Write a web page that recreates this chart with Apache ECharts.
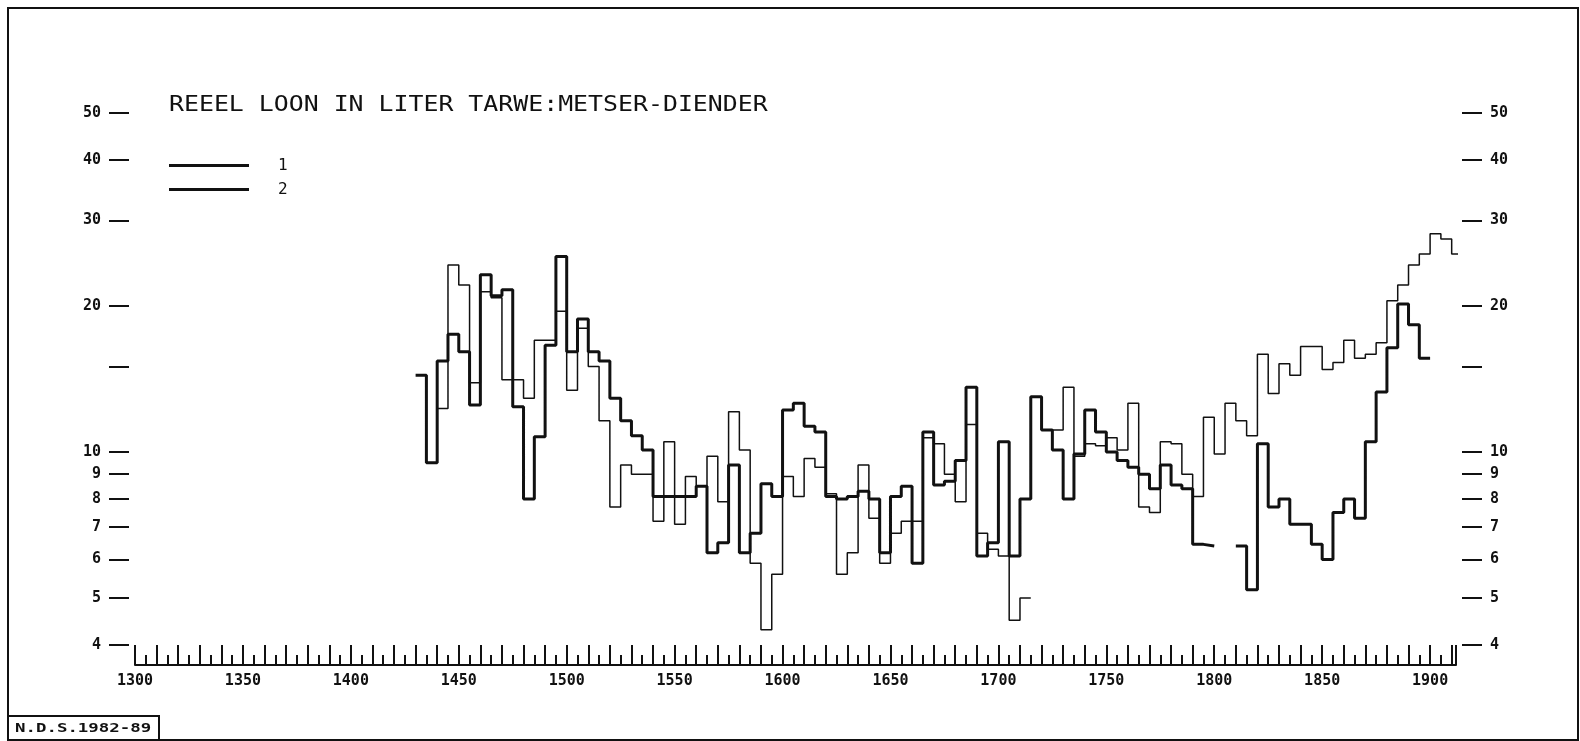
<!DOCTYPE html>
<html><head><meta charset="utf-8">
<script src="https://cdn.jsdelivr.net/npm/echarts@6/dist/echarts.min.js"></script>
<style>html,body{margin:0;padding:0;background:#fff}#c{width:1580px;height:741px}</style>
</head><body><div id="c"></div>
<script>
// Start year of each 5-year period
const years = [1430,1435,1440,1445,1450,1455,1460,1465,1470,1475,1480,1485,1490,1495,1500,1505,1510,1515,1520,1525,
  1530,1535,1540,1545,1550,1555,1560,1565,1570,1575,1580,1585,1590,1595,1600,1605,1610,1615,1620,1625,
  1630,1635,1640,1645,1650,1655,1660,1665,1670,1675,1680,1685,1690,1695,1700,1705,1710,1715,1720,1725,
  1730,1735,1740,1745,1750,1755,1760,1765,1770,1775,1780,1785,1790,1795,1800,1805,1810,1815,1820,1825,
  1830,1835,1840,1845,1850,1855,1860,1865,1870,1875,1880,1885,1890,1895,1900,1905,1910];
const periodLength = 5;
// Series 1 (thick line)
const series1 = [14.4,9.5,15.4,17.5,16.1,12.5,23.2,21.0,21.6,12.4,8.0,10.75,16.6,25.3,16.1,18.8,16.1,15.4,12.9,11.6,
  10.8,10.1,8.1,8.1,8.1,8.1,8.5,6.2,6.5,9.4,6.2,6.8,8.6,8.1,12.2,12.6,11.3,11.0,8.1,8.0,
  8.1,8.3,8.0,6.2,8.1,8.5,5.9,11.0,8.55,8.7,9.6,13.6,6.1,6.5,10.5,6.1,8.0,13.0,11.1,10.1,
  8.0,9.9,12.2,11.0,10.0,9.6,9.3,9.0,8.4,9.4,8.55,8.4,6.45,6.4,null,null,6.4,5.2,10.4,7.7,
  8.0,7.1,7.1,6.45,6.0,7.5,8.0,7.3,10.5,13.3,16.4,20.2,18.3,15.6,null,null,null];
// Series 2 (thin line)
const series2 = [null,null,12.3,24.3,22.1,13.9,21.4,20.8,14.1,14.1,12.9,17.0,17.0,19.5,13.4,18.0,15.0,11.6,7.7,9.4,
  9.0,9.0,7.2,10.5,7.1,8.9,8.5,9.8,7.9,12.1,10.1,5.9,4.3,5.6,8.9,8.1,9.7,9.3,8.2,5.6,
  6.2,9.4,7.3,5.9,6.8,7.2,7.2,10.7,10.4,9.0,7.9,11.4,6.8,6.3,6.1,4.5,5.0,null,null,11.1,
  13.6,9.8,10.4,10.3,10.7,10.1,12.6,7.7,7.5,10.5,10.4,9.0,8.1,11.8,9.9,12.6,11.6,10.8,15.9,13.2,
  15.2,14.4,16.5,16.5,14.8,15.3,17.0,15.6,15.9,16.8,20.5,22.1,24.3,25.6,28.2,27.5,25.6];
const yTickValues = [4,5,6,7,8,9,10,15,20,30,40,50];
const yLabelValues = [4,5,6,7,8,9,10,20,30,40,50];
const xLabelStep = 50;
const titleText = 'REEEL LOON IN LITER TARWE:METSER-DIENDER';
const footText = 'N.D.S.1982-89';

function stepData(vals) {
  const out = [];
  for (let i = 0; i < vals.length; i++) {
    const v = vals[i];
    if (v == null) { out.push([years[i], null]); continue; }
    out.push([years[i], v]);
    const nx = vals[i + 1];
    if (nx == null) out.push([years[i] + periodLength, v]);
  }
  return out;
}

const FONT = 'DejaVu Sans Mono';
const INK = '#111';
const lg = Math.log10;

const yDisplayAxis = (pos) => ({
  type: 'value', position: pos, offset: 6, gridIndex: 0,
  min: lg(4), max: lg(50),
  axisLine: { show: false }, splitLine: { show: false },
  axisTick: { show: true, length: 20, inside: false, customValues: yTickValues.map(lg), lineStyle: { color: INK, width: 2 } },
  axisLabel: { customValues: yLabelValues.map(lg), formatter: v => String(Math.round(Math.pow(10, v))),
    margin: 28, fontFamily: FONT, fontWeight: 'bold', fontSize: 15, color: INK }
});

const chart = echarts.init(document.getElementById('c'), null, { renderer: 'canvas' });
chart.setOption({
  backgroundColor: '#fff',
  animation: false,
  grid: { left: 135, right: 124, top: 113, bottom: 96, containLabel: false },
  legend: {
    data: [{ name: '1', icon: 'rect' }, { name: '2', icon: 'rect' }],
    orient: 'vertical', left: 169, top: 154, padding: 0,
    itemWidth: 80, itemHeight: 3, itemGap: 1, selectedMode: false,
    itemStyle: { color: INK, borderWidth: 0 },
    textStyle: { fontFamily: FONT, fontSize: 16, lineHeight: 19, color: INK, padding: [4, 0, 0, 24] }
  },
  xAxis: {
    type: 'value', min: 1300, max: 1912, interval: 10, offset: 20, position: 'bottom',
    axisLine: { show: true, lineStyle: { color: INK, width: 2 } },
    axisTick: { show: true, inside: true, length: 20, lineStyle: { color: INK, width: 2 } },
    minorTick: { show: true, splitNumber: 2, length: 10, lineStyle: { color: INK, width: 2 } },
    splitLine: { show: false }, minorSplitLine: { show: false },
    axisLabel: { formatter: v => (v % xLabelStep === 0 ? String(v) : ''), margin: 9,
      fontFamily: FONT, fontWeight: 'bold', fontSize: 15, color: INK }
  },
  yAxis: [
    { type: 'log', min: 4, max: 50, logBase: 10, show: false },
    yDisplayAxis('left'),
    yDisplayAxis('right')
  ],
  series: [
    { name: '1', type: 'line', step: 'end', symbol: 'none', yAxisIndex: 0, clip: false,
      data: stepData(series1), lineStyle: { color: INK, width: 3 }, itemStyle: { color: INK } },
    { name: '2', type: 'line', step: 'end', symbol: 'none', yAxisIndex: 0, clip: false,
      data: stepData(series2), lineStyle: { color: INK, width: 1.5 }, itemStyle: { color: INK } }
  ],
  graphic: [
    { type: 'rect', shape: { x: 8, y: 8, width: 1570, height: 732 }, style: { fill: null, stroke: INK, lineWidth: 2 }, silent: true },
    { type: 'rect', shape: { x: 8, y: 716, width: 151, height: 25 }, style: { fill: null, stroke: INK, lineWidth: 2 }, silent: true },
    { type: 'text', x: 15, y: 729, scaleX: 1.45, style: { text: footText, fontFamily: FONT, fontWeight: 'bold', fontSize: 12, fill: INK, textVerticalAlign: 'middle' }, silent: true },
    { type: 'text', x: 169, y: 105, scaleX: 1.13, style: { text: titleText, fontFamily: FONT, fontSize: 22, fill: INK, textVerticalAlign: 'middle' }, silent: true }
  ]
});
</script>
</body></html>
